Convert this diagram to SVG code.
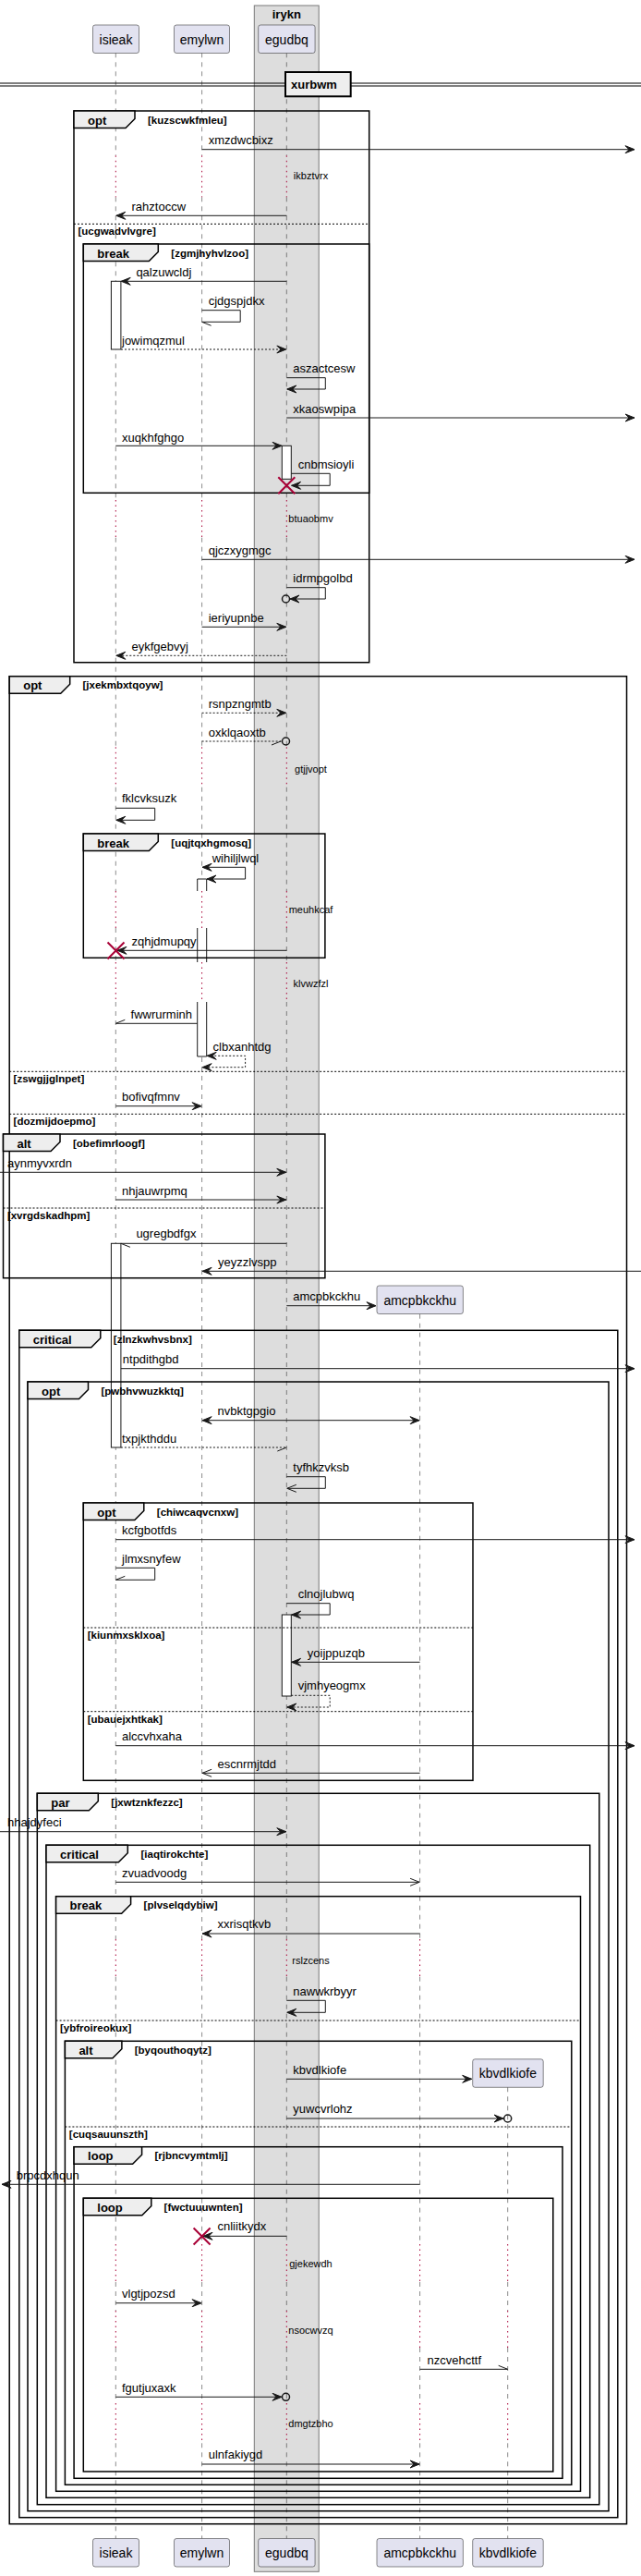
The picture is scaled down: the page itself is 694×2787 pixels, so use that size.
<svg xmlns="http://www.w3.org/2000/svg" width="694" height="2787" viewBox="0 0 694 2787">
<defs>
<style>
.ll{stroke:#181818;stroke-width:0.5;stroke-dasharray:5,5;fill:none}
.dl{stroke:#A80036;stroke-width:1;stroke-dasharray:1.5,4;fill:none}
.m{stroke:#181818;stroke-width:1;fill:none}
.d{stroke-dasharray:2,2}
.fr{fill:none;stroke:#000;stroke-width:1.5}
.tab{fill:#EEEEEE;stroke:#000;stroke-width:1.5}
.sep{stroke:#000;stroke-width:1;stroke-dasharray:2,2}
.act{fill:#fff;stroke:#181818;stroke-width:1}
.pb{fill:#E2E2F0;stroke:#181818;stroke-width:0.5}
.x{stroke:#A80036;stroke-width:2}
.c{fill:none;stroke:#181818;stroke-width:1.5}
text{font-family:"Liberation Sans",Arial,sans-serif;fill:#000}
.t{font-size:13px}
.pt{font-size:14px;text-anchor:middle}
.fl{font-size:13px;font-weight:bold}
.fc{font-size:11.5px;font-weight:bold}
.dt{font-size:11px;text-anchor:middle}
</style>
<marker id="ah" markerUnits="userSpaceOnUse" markerWidth="12" markerHeight="10" refX="0" refY="0" orient="auto-start-reverse" overflow="visible"><path d="M0,0 L-10,-4 L-6,0 L-10,4 Z" fill="#181818" stroke="#181818" stroke-width="1"/></marker>
<marker id="ao" markerUnits="userSpaceOnUse" markerWidth="12" markerHeight="10" refX="0" refY="0" orient="auto" overflow="visible"><path d="M-10,-4 L0,0 L-10,4" fill="none" stroke="#181818" stroke-width="1"/></marker>
</defs>
<rect width="694" height="2787" fill="#fff"/>

<g id="box-irykn">
<rect x="275.3" y="6" width="69.9" height="2776.3" fill="#DDDDDD" stroke="#7a7a7a" stroke-width="1"/>
<text class="fl" x="310.3" y="19.5" text-anchor="middle">irykn</text>
</g>

<g id="lifelines">
<path class="ll" d="M125.3,57.3V168.3M125.3,213.3V541M125.3,581.7V808.3M125.3,851.7V964M125.3,1004V1041M125.3,1084V2098M125.3,2138.7V2428M125.3,2469V2500M125.3,2540V2600M125.3,2643.3V2746.7"/>
<path class="ll" d="M218.6,57.3V168.3M218.6,213.3V541M218.6,581.7V808.3M218.6,851.7V964M218.6,1004V1041M218.6,1084V2098M218.6,2138.7V2428M218.6,2469V2500M218.6,2540V2600M218.6,2643.3V2746.7"/>
<path class="ll" d="M310.3,57.3V168.3M310.3,213.3V541M310.3,581.7V808.3M310.3,851.7V964M310.3,1004V1041M310.3,1084V2098M310.3,2138.7V2428M310.3,2469V2500M310.3,2540V2600M310.3,2643.3V2746.7"/>
<path class="ll" d="M454.6,1421.7V2098M454.6,2138.7V2428M454.6,2469V2500M454.6,2540V2600M454.6,2643.3V2746.7"/>
<path class="ll" d="M549.7,2258.3V2428M549.7,2469V2500M549.7,2540V2600M549.7,2643.3V2746.7"/>
<path class="dl" d="M125.3,168.3V213.3M218.6,168.3V213.3M310.3,168.3V213.3"/>
<path class="dl" d="M125.3,541V581.7M218.6,541V581.7M310.3,541V581.7"/>
<path class="dl" d="M125.3,808.3V851.7M218.6,808.3V851.7M310.3,808.3V851.7"/>
<path class="dl" d="M125.3,964V1004M218.6,964V1004M310.3,964V1004"/>
<path class="dl" d="M125.3,1041V1084M218.6,1041V1084M310.3,1041V1084"/>
<path class="dl" d="M125.3,2098V2138.7M218.6,2098V2138.7M310.3,2098V2138.7M454.6,2098V2138.7"/>
<path class="dl" d="M125.3,2428V2469M218.6,2428V2469M310.3,2428V2469M454.6,2428V2469M549.7,2428V2469"/>
<path class="dl" d="M125.3,2500V2540M218.6,2500V2540M310.3,2500V2540M454.6,2500V2540M549.7,2500V2540"/>
<path class="dl" d="M125.3,2600V2643.3M218.6,2600V2643.3M310.3,2600V2643.3M454.6,2600V2643.3M549.7,2600V2643.3"/>
</g>

<g id="delays">
<text class="dt" x="336.5" y="194">ikbztvrx</text>
<text class="dt" x="336.5" y="565">btuaobmv</text>
<text class="dt" x="336.5" y="835.7">gtjjvopt</text>
<text class="dt" x="336.5" y="988">meuhkcaf</text>
<text class="dt" x="336.5" y="1068">klvwzfzl</text>
<text class="dt" x="336.5" y="2125.3">rslzcens</text>
<text class="dt" x="336.5" y="2452.7">gjekewdh</text>
<text class="dt" x="336.5" y="2524.7">nsocwvzq</text>
<text class="dt" x="336.5" y="2626">dmgtzbho</text>
</g>

<g id="activations">
<rect class="act" x="120.4" y="304.3" width="10.5" height="73.7"/>
<rect class="act" x="305.3" y="482.3" width="10" height="36"/>
<rect x="213.7" y="951" width="10" height="13" fill="#fff"/>
<rect x="213.7" y="1004" width="10" height="37" fill="#fff"/>
<rect x="213.7" y="1084" width="10" height="59" fill="#fff"/>
<path class="m" d="M213.7,964V951H223.7V964M213.7,1004V1041M223.7,1004V1041M213.7,1084V1143H223.7V1084"/>
<rect class="act" x="120.4" y="1345.3" width="10.5" height="220.7"/>
<rect class="act" x="305.3" y="1747" width="10" height="88"/>
</g>

<g id="divider-xurbwm">
<path d="M0,90H694M0,93H694" stroke="#000" stroke-width="1"/>
<rect x="309" y="78" width="70.7" height="26.3" fill="#EEEEEE" stroke="#000" stroke-width="2"/>
<text class="fl" x="315" y="96">xurbwm</text>
</g>

<g id="frames">
<g id="f-opt-kuzscwkfmleu">
<rect class="fr" x="80" y="120" width="319.7" height="596.7"/>
<path class="tab" d="M80,120H146V128.5L136,138.5H80Z"/>
<text class="fl" x="95" y="134.5">opt</text>
<text class="fc" x="160" y="133.5">[kuzscwkfmleu]</text>
<line class="sep" x1="80" y1="242.3" x2="399.7" y2="242.3"/>
<text class="fc" x="84.4" y="254.1">[ucgwadvlvgre]</text>
</g>
<g id="f-break-zgmjhyhvlzoo">
<rect class="fr" x="90.3" y="264" width="309.4" height="269.3"/>
<path class="tab" d="M90.3,264H171.3V272.5L161.3,282.5H90.3Z"/>
<text class="fl" x="105.3" y="278.5">break</text>
<text class="fc" x="185.3" y="277.5">[zgmjhyhvlzoo]</text>
</g>
<g id="f-opt-jxekmbxtqoyw">
<rect class="fr" x="10.2" y="731.7" width="668.3" height="1999"/>
<path class="tab" d="M10.2,731.7H75.7V740.2L65.7,750.2H10.2Z"/>
<text class="fl" x="25.2" y="746.2">opt</text>
<text class="fc" x="89.5" y="745.2">[jxekmbxtqoyw]</text>
<line class="sep" x1="10.2" y1="1159.3" x2="678.5" y2="1159.3"/>
<text class="fc" x="14.6" y="1171.1">[zswgjjglnpet]</text>
<line class="sep" x1="10.2" y1="1205.3" x2="678.5" y2="1205.3"/>
<text class="fc" x="14.6" y="1217.1">[dozmijdoepmo]</text>
</g>
<g id="f-break-uqjtqxhgmosq">
<rect class="fr" x="90.3" y="902" width="261.6" height="134.3"/>
<path class="tab" d="M90.3,902H171.3V910.5L161.3,920.5H90.3Z"/>
<text class="fl" x="105.3" y="916.5">break</text>
<text class="fc" x="185.3" y="915.5">[uqjtqxhgmosq]</text>
</g>
<g id="f-alt-obefimrloogf">
<rect class="fr" x="3.5" y="1227" width="348.4" height="155.7"/>
<path class="tab" d="M3.5,1227H65V1235.5L55,1245.5H3.5Z"/>
<text class="fl" x="18.5" y="1241.5">alt</text>
<text class="fc" x="79" y="1240.5">[obefimrloogf]</text>
<line class="sep" x1="3.5" y1="1307" x2="351.9" y2="1307"/>
<text class="fc" x="7.9" y="1318.8">[xvrgdskadhpm]</text>
</g>
<g id="f-critical-zlnzkwhvsbnx">
<rect class="fr" x="20.8" y="1439.3" width="648" height="1284.4"/>
<path class="tab" d="M20.8,1439.3H108.8V1447.8L98.8,1457.8H20.8Z"/>
<text class="fl" x="35.8" y="1453.8">critical</text>
<text class="fc" x="122.8" y="1452.8">[zlnzkwhvsbnx]</text>
</g>
<g id="f-opt-pwbhvwuzkktq">
<rect class="fr" x="30" y="1495" width="629" height="1221.7"/>
<path class="tab" d="M30,1495H95.5V1503.5L85.5,1513.5H30Z"/>
<text class="fl" x="45" y="1509.5">opt</text>
<text class="fc" x="109.5" y="1508.5">[pwbhvwuzkktq]</text>
</g>
<g id="f-opt-chiwcaqvcnxw">
<rect class="fr" x="90.3" y="1626" width="421.7" height="300.3"/>
<path class="tab" d="M90.3,1626H155.8V1634.5L145.8,1644.5H90.3Z"/>
<text class="fl" x="105.3" y="1640.5">opt</text>
<text class="fc" x="169.8" y="1639.5">[chiwcaqvcnxw]</text>
<line class="sep" x1="90.3" y1="1761" x2="512" y2="1761"/>
<text class="fc" x="94.7" y="1772.8">[kiunmxsklxoa]</text>
<line class="sep" x1="90.3" y1="1851.7" x2="512" y2="1851.7"/>
<text class="fc" x="94.7" y="1863.5">[ubauejxhtkak]</text>
</g>
<g id="f-par-jxwtznkfezzc">
<rect class="fr" x="40.3" y="1940.3" width="608.5" height="769.4"/>
<path class="tab" d="M40.3,1940.3H106.3V1948.8L96.3,1958.8H40.3Z"/>
<text class="fl" x="55.3" y="1954.8">par</text>
<text class="fc" x="120.3" y="1953.8">[jxwtznkfezzc]</text>
</g>
<g id="f-critical-iaqtirokchte">
<rect class="fr" x="50" y="1996.3" width="588.7" height="706"/>
<path class="tab" d="M50,1996.3H138.3V2004.8L128.3,2014.8H50Z"/>
<text class="fl" x="65" y="2010.8">critical</text>
<text class="fc" x="152.5" y="2009.8">[iaqtirokchte]</text>
</g>
<g id="f-break-plvselqdybiw">
<rect class="fr" x="60.6" y="2051.7" width="567.9" height="643.6"/>
<path class="tab" d="M60.6,2051.7H141.6V2060.2L131.6,2070.2H60.6Z"/>
<text class="fl" x="75.6" y="2066.2">break</text>
<text class="fc" x="155.6" y="2065.2">[plvselqdybiw]</text>
<line class="sep" x1="60.6" y1="2186" x2="628.5" y2="2186"/>
<text class="fc" x="65" y="2197.8">[ybfroireokux]</text>
</g>
<g id="f-alt-byqouthoqytz">
<rect class="fr" x="70.4" y="2208.3" width="548.4" height="480"/>
<path class="tab" d="M70.4,2208.3H131.9V2216.8L121.9,2226.8H70.4Z"/>
<text class="fl" x="85.4" y="2222.8">alt</text>
<text class="fc" x="145.7" y="2221.8">[byqouthoqytz]</text>
<line class="sep" x1="70.4" y1="2301" x2="618.8" y2="2301"/>
<text class="fc" x="74.8" y="2312.8">[cuqsauunszth]</text>
</g>
<g id="f-loop-rjbncvymtmlj">
<rect class="fr" x="80.1" y="2322.7" width="528.9" height="358.6"/>
<path class="tab" d="M80.1,2322.7H153.6V2331.2L143.6,2341.2H80.1Z"/>
<text class="fl" x="95.1" y="2337.2">loop</text>
<text class="fc" x="167.4" y="2336.2">[rjbncvymtmlj]</text>
</g>
<g id="f-loop-fwctuuuwnten">
<rect class="fr" x="90.3" y="2378.3" width="508.5" height="295.7"/>
<path class="tab" d="M90.3,2378.3H163.8V2386.8L153.8,2396.8H90.3Z"/>
<text class="fl" x="105.3" y="2392.8">loop</text>
<text class="fc" x="177.6" y="2391.8">[fwctuuuwnten]</text>
</g>
</g>

<g id="participants">
<g id="p-isieak">
<rect class="pb" x="100.5" y="27" width="50" height="30.5" rx="2.5"/>
<text class="pt" x="125.5" y="47.5">isieak</text>
<rect class="pb" x="100.5" y="2746.5" width="50" height="30.5" rx="2.5"/>
<text class="pt" x="125.5" y="2767">isieak</text>
</g>
<g id="p-emylwn">
<rect class="pb" x="188.5" y="27" width="60" height="30.5" rx="2.5"/>
<text class="pt" x="218.5" y="47.5">emylwn</text>
<rect class="pb" x="188.5" y="2746.5" width="60" height="30.5" rx="2.5"/>
<text class="pt" x="218.5" y="2767">emylwn</text>
</g>
<g id="p-egudbq">
<rect class="pb" x="279.7" y="27" width="61.4" height="30.5" rx="2.5"/>
<text class="pt" x="310.4" y="47.5">egudbq</text>
<rect class="pb" x="279.7" y="2746.5" width="61.4" height="30.5" rx="2.5"/>
<text class="pt" x="310.4" y="2767">egudbq</text>
</g>
<g id="p-amcpbkckhu">
<rect class="pb" x="408" y="1391" width="93.4" height="30.5" rx="2.5"/>
<text class="pt" x="454.7" y="1411.5">amcpbkckhu</text>
<rect class="pb" x="408" y="2746.5" width="93.4" height="30.5" rx="2.5"/>
<text class="pt" x="454.7" y="2767">amcpbkckhu</text>
</g>
<g id="p-kbvdlkiofe">
<rect class="pb" x="511.7" y="2227.8" width="76.5" height="30.5" rx="2.5"/>
<text class="pt" x="549.9" y="2248.3">kbvdlkiofe</text>
<rect class="pb" x="511.7" y="2746.5" width="76.5" height="30.5" rx="2.5"/>
<text class="pt" x="549.9" y="2767">kbvdlkiofe</text>
</g>
</g>

<g id="connectors">
<line class="m" x1="218.6" y1="161.7" x2="687" y2="161.7" marker-end="url(#ah)"/>
<text class="t" x="225.7" y="156">xmzdwcbixz</text>
<line class="m" x1="310.3" y1="233.3" x2="125.8" y2="233.3" marker-end="url(#ah)"/>
<text class="t" x="142.5" y="228">rahztoccw</text>
<line class="m" x1="310.3" y1="304.3" x2="131.2" y2="304.3" marker-end="url(#ah)"/>
<text class="t" x="147.4" y="298.5">qalzuwcldj</text>
<polyline class="m" points="218.6,335.7 260.2,335.7 260.2,348.3 218.6,348.3"/>
<line class="m" x1="218.6" y1="348.3" x2="228.6" y2="352.3"/>
<text class="t" x="225.7" y="329.5">cjdgspjdkx</text>
<line class="m d" x1="131" y1="378" x2="309.8" y2="378" marker-end="url(#ah)"/>
<text class="t" x="132" y="373.3">jowimqzmul</text>
<polyline class="m" points="310.3,408.7 352.3,408.7 352.3,421 310.8,421" marker-end="url(#ah)"/>
<text class="t" x="317.3" y="403.3">aszactcesw</text>
<line class="m" x1="310.3" y1="452" x2="687" y2="452" marker-end="url(#ah)"/>
<text class="t" x="317.3" y="446.7">xkaoswpipa</text>
<line class="m" x1="125.3" y1="482.3" x2="305" y2="482.3" marker-end="url(#ah)"/>
<text class="t" x="132" y="477.5">xuqkhfghgo</text>
<polyline class="m" points="315.3,512.3 357.2,512.3 357.2,525.3 315.6,525.3" marker-end="url(#ah)"/>
<text class="t" x="322.7" y="507.3">cnbmsioyli</text>
<path class="x" d="M301.3,516.3L319.3,534.3M319.3,516.3L301.3,534.3"/>
<line class="m" x1="218.6" y1="605.3" x2="687" y2="605.3" marker-end="url(#ah)"/>
<text class="t" x="225.7" y="599.5">qjczxygmgc</text>
<polyline class="m" points="310.3,635.7 352.3,635.7 352.3,648 314,648" marker-end="url(#ah)"/>
<circle class="c" cx="309.5" cy="648" r="4"/>
<text class="t" x="317.3" y="630">idrmpgolbd</text>
<line class="m" x1="218.6" y1="678.3" x2="309.8" y2="678.3" marker-end="url(#ah)"/>
<text class="t" x="225.7" y="673">ieriyupnbe</text>
<line class="m d" x1="310.3" y1="709.3" x2="125.8" y2="709.3" marker-end="url(#ah)"/>
<text class="t" x="142.5" y="704">eykfgebvyj</text>
<line class="m d" x1="218.6" y1="771.3" x2="309.8" y2="771.3" marker-end="url(#ah)"/>
<text class="t" x="225.7" y="766">rsnpzngmtb</text>
<line class="m d" x1="218.6" y1="802" x2="305.2" y2="802"/>
<line class="m" x1="304" y1="802" x2="294" y2="806"/>
<circle class="c" cx="309.5" cy="802" r="4"/>
<text class="t" x="225.7" y="796.7">oxklqaoxtb</text>
<polyline class="m" points="125.3,874.3 167.7,874.3 167.7,887.3 125.8,887.3" marker-end="url(#ah)"/>
<text class="t" x="132" y="868.3">fklcvksuzk</text>
<polyline class="m" points="219.1,938.3 265.6,938.3 265.6,951 224,951" marker-start="url(#ah)" marker-end="url(#ah)"/>
<text class="t" x="229.7" y="933.3">wihiljlwql</text>
<line class="m" x1="310.3" y1="1028.3" x2="127" y2="1028.3" marker-end="url(#ah)"/>
<path class="x" d="M116.5,1019.5L134.5,1037.5M134.5,1019.5L116.5,1037.5"/>
<text class="t" x="142.5" y="1023">zqhjdmupqy</text>
<line class="m" x1="213.7" y1="1107.3" x2="125.3" y2="1107.3"/>
<line class="m" x1="125.3" y1="1107.3" x2="135.3" y2="1103.3"/>
<text class="t" x="141.6" y="1102">fwwrurminh</text>
<polyline class="m d" points="224.2,1142.3 265.6,1142.3 265.6,1154.7 219.1,1154.7" marker-start="url(#ah)" marker-end="url(#ah)"/>
<text class="t" x="230.6" y="1137">clbxanhtdg</text>
<line class="m" x1="125.3" y1="1196.7" x2="218.1" y2="1196.7" marker-end="url(#ah)"/>
<text class="t" x="132" y="1191.3">bofivqfmnv</text>
<line class="m" x1="0" y1="1268.3" x2="309.8" y2="1268.3" marker-end="url(#ah)"/>
<text class="t" x="8" y="1262.7">aynmyvxrdn</text>
<line class="m" x1="125.3" y1="1298" x2="309.8" y2="1298" marker-end="url(#ah)"/>
<text class="t" x="132" y="1292.7">nhjauwrpmq</text>
<line class="m" x1="310.3" y1="1345.3" x2="130.9" y2="1345.3"/>
<line class="m" x1="130.9" y1="1345.3" x2="140.9" y2="1349.3"/>
<text class="t" x="147.4" y="1339.3">ugregbdfgx</text>
<line class="m" x1="694" y1="1375.3" x2="219.1" y2="1375.3" marker-end="url(#ah)"/>
<text class="t" x="236" y="1370">yeyzzlvspp</text>
<line class="m" x1="310.3" y1="1412.7" x2="407" y2="1412.7" marker-end="url(#ah)"/>
<text class="t" x="317.3" y="1407">amcpbkckhu</text>
<line class="m" x1="130.9" y1="1480.7" x2="687" y2="1480.7" marker-end="url(#ah)"/>
<text class="t" x="132.8" y="1475">ntpdithgbd</text>
<line class="m" x1="219.1" y1="1536.7" x2="454.1" y2="1536.7" marker-start="url(#ah)" marker-end="url(#ah)"/>
<text class="t" x="235.5" y="1531">nvbktgpgio</text>
<line class="m d" x1="130.9" y1="1566" x2="310.3" y2="1566"/>
<line class="m" x1="310.3" y1="1566" x2="300.3" y2="1570"/>
<text class="t" x="132" y="1561">txpjkthddu</text>
<polyline class="m" points="310.3,1597.7 352.3,1597.7 352.3,1610.3 310.8,1610.3" marker-end="url(#ao)"/>
<text class="t" x="317.3" y="1591.5">tyfhkzvksb</text>
<line class="m" x1="125.3" y1="1665.7" x2="687" y2="1665.7" marker-end="url(#ah)"/>
<text class="t" x="132" y="1660.3">kcfgbotfds</text>
<polyline class="m" points="125.3,1696.3 167.7,1696.3 167.7,1709.3 125.3,1709.3"/>
<line class="m" x1="125.3" y1="1709.3" x2="135.3" y2="1705.3"/>
<text class="t" x="132" y="1690.8">jlmxsnyfew</text>
<polyline class="m" points="310.3,1734.7 357.2,1734.7 357.2,1747 315.6,1747" marker-end="url(#ah)"/>
<text class="t" x="322.7" y="1729.3">clnojlubwq</text>
<line class="m" x1="454.6" y1="1798.3" x2="315.6" y2="1798.3" marker-end="url(#ah)"/>
<text class="t" x="332.8" y="1792.7">yoijppuzqb</text>
<polyline class="m d" points="315.3,1834.3 357.2,1834.3 357.2,1847 310.8,1847" marker-end="url(#ah)"/>
<text class="t" x="322.7" y="1828.3">vjmhyeogmx</text>
<line class="m" x1="125.3" y1="1888.7" x2="687" y2="1888.7" marker-end="url(#ah)"/>
<text class="t" x="132" y="1882.5">alccvhxaha</text>
<line class="m" x1="454.6" y1="1918.3" x2="219.1" y2="1918.3" marker-end="url(#ao)"/>
<text class="t" x="235.5" y="1912.7">escnrmjtdd</text>
<line class="m" x1="0" y1="1981.7" x2="309.8" y2="1981.7" marker-end="url(#ah)"/>
<text class="t" x="8" y="1975.5">hhajdyfeci</text>
<line class="m" x1="125.3" y1="2036.3" x2="454.1" y2="2036.3" marker-end="url(#ao)"/>
<text class="t" x="132" y="2031">zvuadvoodg</text>
<line class="m" x1="454.6" y1="2092" x2="219.1" y2="2092" marker-end="url(#ah)"/>
<text class="t" x="235.5" y="2086.3">xxrisqtkvb</text>
<polyline class="m" points="310.3,2164.3 352.3,2164.3 352.3,2177.3 310.8,2177.3" marker-end="url(#ah)"/>
<text class="t" x="317.3" y="2158.7">nawwkrbyyr</text>
<line class="m" x1="310.3" y1="2249.3" x2="510.7" y2="2249.3" marker-end="url(#ah)"/>
<text class="t" x="317.3" y="2243.7">kbvdlkiofe</text>
<line class="m" x1="310.3" y1="2292" x2="545" y2="2292" marker-end="url(#ah)"/>
<circle class="c" cx="549.7" cy="2292" r="4"/>
<text class="t" x="317.3" y="2286">yuwcvrlohz</text>
<line class="m" x1="454.6" y1="2363.3" x2="2" y2="2363.3" marker-end="url(#ah)"/>
<text class="t" x="17.7" y="2357.7">brpcdxhqun</text>
<line class="m" x1="310.3" y1="2419.3" x2="220" y2="2419.3" marker-end="url(#ah)"/>
<path class="x" d="M209.6,2410.5L227.6,2428.5M227.6,2410.5L209.6,2428.5"/>
<text class="t" x="235.5" y="2413.3">cnliitkydx</text>
<line class="m" x1="125.3" y1="2491.7" x2="218.1" y2="2491.7" marker-end="url(#ah)"/>
<text class="t" x="132" y="2486">vlgtjpozsd</text>
<line class="m" x1="454.6" y1="2563.3" x2="549.7" y2="2563.3"/>
<line class="m" x1="549.7" y1="2563.3" x2="539.7" y2="2559.3"/>
<text class="t" x="462.5" y="2558.3">nzcvehcttf</text>
<line class="m" x1="125.3" y1="2593.3" x2="305" y2="2593.3" marker-end="url(#ah)"/>
<circle class="c" cx="309.5" cy="2593.3" r="4"/>
<text class="t" x="132" y="2587.7">fgutjuxaxk</text>
<line class="m" x1="218.6" y1="2666" x2="454.1" y2="2666" marker-end="url(#ah)"/>
<text class="t" x="225.7" y="2660">ulnfakiygd</text>
</g>
</svg>
